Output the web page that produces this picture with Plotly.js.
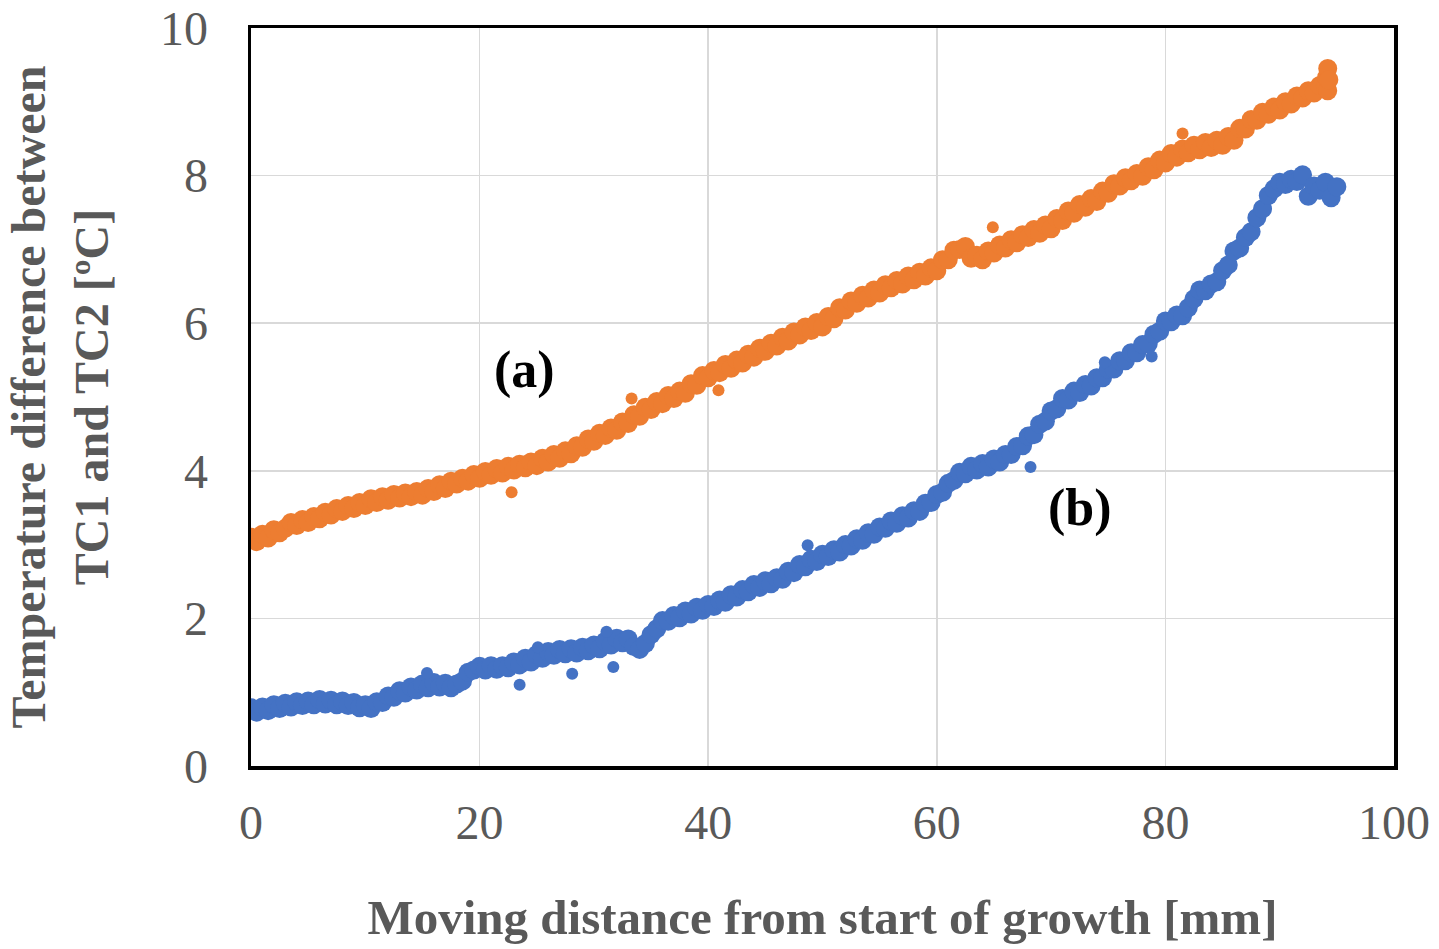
<!DOCTYPE html>
<html>
<head>
<meta charset="utf-8">
<script src="https://cdn.plot.ly/plotly-3.0.1.min.js"></script>
<style>html,body{margin:0;padding:0;background:#fff;}#chart{width:1439px;height:949px;}</style>
</head>
<body>
<div id="chart"></div>
<script>
// Series (a): orange, x in mm, y in degC
const xA = [0,0.5,1,1.5,2,2.5,3,3.5,4,4.5,5,5.5,6,6.5,7,7.5,8,8.5,9,9.5,10,10.5,11,11.5,12,12.5,13,13.5,14,14.5,15,15.5,16,16.5,17,17.5,18,18.5,19,19.5,20,20.5,21,21.5,22,22.5,23,23.5,24,24.5,25,25.5,26,26.5,27,27.5,28,28.5,29,29.5,30,30.5,31,31.5,32,32.5,33,33.5,34,34.5,35,35.5,36,36.5,37,37.5,38,38.5,39,39.5,40,40.5,41,41.5,42,42.5,43,43.5,44,44.5,45,45.5,46,46.5,47,47.5,48,48.5,49,49.5,50,50.5,51,51.5,52,52.5,53,53.5,54,54.5,55,55.5,56,56.5,57,57.5,58,58.5,59,59.5,60,60.5,61,61.5,62,62.5,63,63.5,64,64.5,65,65.5,66,66.5,67,67.5,68,68.5,69,69.5,70,70.5,71,71.5,72,72.5,73,73.5,74,74.5,75,75.5,76,76.5,77,77.5,78,78.5,79,79.5,80,80.5,81,81.5,82,82.5,83,83.5,84,84.5,85,85.5,86,86.5,87,87.5,88,88.5,89,89.5,90,90.5,91,91.5,92,92.5,93,93.5,94,94.1,94.2,94.2,94.3];
const yA = [3.10,3.04,3.14,3.09,3.20,3.16,3.22,3.30,3.26,3.34,3.30,3.38,3.35,3.44,3.40,3.49,3.45,3.53,3.49,3.57,3.53,3.62,3.57,3.65,3.60,3.68,3.63,3.70,3.65,3.72,3.67,3.76,3.72,3.81,3.76,3.86,3.82,3.90,3.86,3.95,3.90,3.99,3.94,4.03,3.97,4.06,4.01,4.09,4.04,4.12,4.07,4.17,4.12,4.22,4.17,4.27,4.23,4.34,4.32,4.43,4.40,4.51,4.48,4.58,4.55,4.66,4.64,4.76,4.74,4.86,4.83,4.94,4.91,5.02,4.98,5.08,5.05,5.18,5.16,5.29,5.26,5.36,5.33,5.44,5.39,5.50,5.46,5.58,5.54,5.66,5.62,5.73,5.69,5.81,5.76,5.88,5.84,5.95,5.90,6.01,5.95,6.09,6.06,6.21,6.18,6.30,6.27,6.38,6.34,6.45,6.41,6.52,6.48,6.58,6.53,6.64,6.59,6.69,6.64,6.75,6.71,6.86,6.86,6.99,7.00,7.04,6.88,6.92,6.86,6.98,6.95,7.06,7.02,7.13,7.09,7.20,7.16,7.27,7.22,7.33,7.28,7.42,7.39,7.52,7.49,7.61,7.57,7.69,7.65,7.79,7.76,7.89,7.86,7.97,7.93,8.03,7.99,8.12,8.08,8.21,8.17,8.30,8.25,8.36,8.31,8.41,8.35,8.45,8.38,8.48,8.41,8.53,8.48,8.64,8.63,8.76,8.75,8.86,8.83,8.93,8.89,9.00,8.97,9.08,9.05,9.15,9.12,9.22,9.21,9.33,9.45,9.15,9.30];
const xAout = [22.8,33.3,40.9,64.9,81.5];
const yAout = [3.71,4.98,5.09,7.30,8.57];

// Series (b): blue
const xB = [0,0.5,1,1.5,2,2.5,3,3.5,4,4.5,5,5.5,6,6.5,7,7.5,8,8.5,9,9.5,10,10.5,11,11.5,12,12.5,13,13.5,14,14.5,15,15.5,16,16.5,17,17.5,18,18.5,19,19.5,20,20.5,21,21.5,22,22.5,23,23.5,24,24.5,25,25.5,26,26.5,27,27.5,28,28.5,29,29.5,30,30.5,31,31.5,32,32.5,33,33.5,34,34.5,35,35.5,36,36.5,37,37.5,38,38.5,39,39.5,40,40.5,41,41.5,42,42.5,43,43.5,44,44.5,45,45.5,46,46.5,47,47.5,48,48.5,49,49.5,50,50.5,51,51.5,52,52.5,53,53.5,54,54.5,55,55.5,56,56.5,57,57.5,58,58.5,59,59.5,60,60.5,61,61.5,62,62.5,63,63.5,64,64.5,65,65.5,66,66.5,67,67.5,68,68.5,69,69.5,70,70.5,71,71.5,72,72.5,73,73.5,74,74.5,75,75.5,76,76.5,77,77.5,78,78.5,79,79.5,80,80.5,81,81.5,82,82.5,83,83.5,84,84.5,85,85.5,86,86.5,87,87.5,88,88.5,89,89.5,90,90.5,91,91.5,92,92.5,93,93.5,94,94.5,95];
const yB = [0.79,0.73,0.80,0.75,0.83,0.78,0.85,0.80,0.87,0.82,0.88,0.83,0.90,0.84,0.89,0.83,0.88,0.82,0.86,0.79,0.83,0.78,0.87,0.86,0.95,0.93,1.02,0.99,1.07,1.03,1.11,1.06,1.13,1.07,1.12,1.06,1.11,1.15,1.27,1.30,1.35,1.30,1.36,1.31,1.36,1.33,1.41,1.37,1.46,1.41,1.51,1.46,1.55,1.50,1.58,1.52,1.59,1.53,1.61,1.56,1.64,1.59,1.69,1.64,1.73,1.67,1.72,1.62,1.58,1.66,1.78,1.86,1.97,1.96,2.04,2.01,2.10,2.06,2.15,2.11,2.19,2.16,2.25,2.22,2.32,2.29,2.39,2.36,2.46,2.42,2.51,2.47,2.55,2.53,2.64,2.62,2.73,2.70,2.80,2.77,2.87,2.84,2.93,2.90,3.00,2.98,3.08,3.06,3.16,3.14,3.24,3.22,3.32,3.29,3.39,3.36,3.46,3.45,3.56,3.57,3.68,3.71,3.83,3.87,3.98,3.96,4.06,4.01,4.10,4.05,4.16,4.12,4.22,4.22,4.33,4.34,4.47,4.49,4.63,4.67,4.81,4.84,4.98,4.96,5.08,5.06,5.17,5.15,5.26,5.26,5.38,5.38,5.49,5.49,5.60,5.60,5.71,5.72,5.85,5.89,6.03,6.02,6.11,6.10,6.21,6.33,6.45,6.44,6.53,6.56,6.71,6.79,6.98,7.02,7.16,7.24,7.43,7.55,7.73,7.82,7.91,7.88,7.95,7.92,8.01,7.72,7.86,7.80,7.91,7.70,7.85];
const xBout = [15.4,23.5,25.1,28.1,31.1,31.7,48.7,68.2,74.7,78.8];
const yBout = [1.26,1.10,1.61,1.25,1.82,1.34,2.99,4.05,5.47,5.55];

const xTicks = [0,20,40,60,80,100];
const yTicks = [0,2,4,6,8,10];
const xTitle = 'Moving distance from start of growth [mm]';
const yTitle = 'Temperature difference between<br>TC1 and TC2 [ºC]';
const labels = [{text:'(a)', x:23.9, y:5.37},{text:'(b)', x:72.5, y:3.50}];

const orange = '#ED7D31', blue = '#4472C4';
const font = '"Liberation Serif", "Times New Roman", serif';
const gray = '#595959';

const traces = [
  {type:'scatter', mode:'markers', name:'(a)', x:xA, y:yA, marker:{color:orange, size:19, line:{width:0}}},
  {type:'scatter', mode:'markers', name:'(a) scattered', x:xAout, y:yAout, marker:{color:orange, size:12, line:{width:0}}},
  {type:'scatter', mode:'markers', name:'(b)', x:xB, y:yB, marker:{color:blue, size:19, line:{width:0}}},
  {type:'scatter', mode:'markers', name:'(b) scattered', x:xBout, y:yBout, marker:{color:blue, size:12, line:{width:0}}}
];

const layout = {
  width:1439, height:949,
  margin:{l:251, r:45, t:28, b:183},
  paper_bgcolor:'#fff', plot_bgcolor:'#fff',
  showlegend:false,
  font:{family:font, color:gray},
  xaxis:{range:[0,100], tickvals:xTicks, ticktext:xTicks.map(String),
    showgrid:true, gridcolor:'#d9d9d9', gridwidth:1.5, zeroline:false,
    showline:true, linecolor:'#000', linewidth:3.5, mirror:true,
    ticks:'', ticklabelstandoff:12,
    tickfont:{family:font, size:48, color:gray},
    title:{text:xTitle, standoff:52, font:{family:font, size:49, color:gray, weight:'bold'}}},
  yaxis:{range:[0,10], tickvals:yTicks, ticktext:yTicks.map(String),
    showgrid:true, gridcolor:'#d9d9d9', gridwidth:1.5, zeroline:false,
    showline:true, linecolor:'#000', linewidth:3.5, mirror:true,
    ticks:'', ticklabelstandoff:30,
    tickfont:{family:font, size:48, color:gray},
    title:{text:yTitle, standoff:37, font:{family:font, size:48, color:gray, weight:'bold'}}},
  annotations: labels.map(l => ({x:l.x, y:l.y, xref:'x', yref:'y', text:'<b>'+l.text+'</b>',
    showarrow:false, font:{family:font, size:52, color:'#000'}}))
};

Plotly.newPlot('chart', traces, layout, {displayModeBar:false, staticPlot:true});
</script>
</body>
</html>
